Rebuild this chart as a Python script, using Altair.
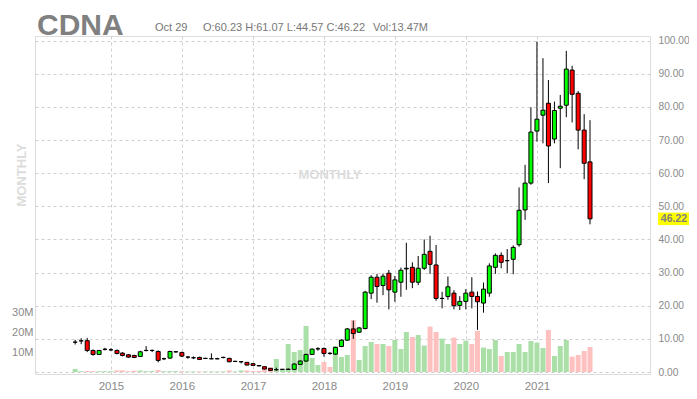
import altair as alt
import pandas as pd

# ---------------- data (monthly candles, Jul 2014 .. Oct 2021) ----------------
first_month = "2014-07-01"
n_months = 88

opens = [
    9.0, 9.4, 9.45, 6.5, 5.3, 6.85,                                   # 2014 Jul-Dec
    6.7, 6.5, 5.7, 5.2, 5.0, 4.7, 6.5, 6.5, 6.2, 4.0, 4.2, 6.1,       # 2015
    5.9, 4.5, 4.3, 4.4, 4.1, 4.0, 4.0, 4.4, 4.1, 3.2, 3.1, 2.9,       # 2016
    2.5, 1.95, 1.6, 1.1, 0.7, 0.8, 0.75, 0.8, 2.3, 3.3, 5.3, 7.0,     # 2017
    7.1, 5.65, 5.4, 7.7, 9.6, 13.0, 12.0, 13.1, 23.8, 28.6, 26.1, 29.8,  # 2018
    24.1, 27.1, 31.1, 31.6, 27.1, 31.3, 36.4, 32.3, 22.2, 22.8, 23.8, 20.1,  # 2019
    21.3, 24.1, 22.8, 20.8, 23.8, 31.6, 35.2, 33.6, 34.0, 38.4, 48.9, 57.0,  # 2020
    72.7, 77.5, 81.1, 70.3, 79.6, 80.5, 91.1, 84.1, 73.0, 63.4,       # 2021 Jan-Oct
]
highs = [
    9.7, 10.2, 10.3, 6.8, 6.6, 7.3,
    7.2, 6.8, 6.0, 5.4, 5.2, 6.4, 7.8, 6.8, 6.5, 4.3, 6.4, 6.3,
    6.1, 4.8, 4.7, 4.6, 4.3, 5.6, 4.3, 4.6, 4.3, 3.4, 3.3, 3.0,
    2.6, 2.0, 1.7, 1.2, 1.3, 0.9, 1.1, 2.6, 3.5, 5.5, 7.1, 7.5,
    7.4, 6.0, 7.6, 9.9, 13.3, 15.5, 13.6, 24.5, 29.2, 29.6, 29.7, 30.8,
    29.0, 31.5, 39.0, 33.1, 35.0, 40.0, 41.1, 38.3, 24.2, 28.8, 24.7, 22.9,
    25.0, 28.6, 24.3, 27.0, 32.8, 35.8, 36.1, 37.1, 38.2, 55.7, 62.5, 79.9,
    99.7, 94.7, 88.1, 81.6, 83.6, 96.9, 92.4, 84.8, 77.8, 76.0,
]
lows = [
    8.3, 8.4, 6.0, 4.9, 5.1, 6.5,
    6.3, 5.3, 4.7, 4.3, 4.2, 4.5, 6.2, 6.0, 2.9, 3.6, 4.0, 5.8,
    4.5, 4.0, 3.9, 3.6, 3.9, 3.8, 3.8, 4.1, 2.9, 3.0, 2.6, 2.0,
    1.8, 1.7, 0.8, 0.4, 0.4, 0.6, 0.6, 0.7, 2.2, 3.1, 5.1, 6.4,
    4.6, 5.2, 5.2, 7.5, 9.4, 10.0, 11.8, 12.9, 22.0, 20.9, 23.2, 18.9,
    21.2, 22.7, 24.8, 25.3, 26.2, 30.8, 29.6, 21.5, 19.2, 21.8, 18.9, 18.7,
    18.9, 19.2, 12.7, 17.9, 22.7, 29.6, 31.3, 29.8, 29.5, 37.8, 45.9, 56.5,
    69.5, 69.0, 57.0, 69.0, 61.5, 76.9, 75.3, 67.2, 58.2, 44.57,
]
closes = [
    9.0, 9.4, 6.5, 5.3, 6.5, 6.85,
    6.7, 5.6, 5.0, 4.5, 4.4, 6.1, 6.5, 6.5, 3.5, 4.0, 6.2, 6.1,
    4.8, 4.5, 4.3, 3.8, 4.1, 4.0, 4.0, 4.4, 3.1, 3.2, 3.1, 2.1,
    2.0, 1.85, 0.9, 0.5, 0.7, 0.8, 0.85, 2.4, 3.3, 5.3, 6.9, 7.0,
    5.6, 5.6, 7.4, 9.6, 13.0, 11.6, 13.3, 24.1, 28.6, 25.8, 28.9, 24.8,
    27.8, 30.7, 31.3, 27.1, 31.3, 35.5, 32.5, 22.2, 22.2, 25.7, 20.0, 21.3,
    23.8, 22.8, 21.2, 25.0, 32.0, 35.2, 33.1, 33.6, 37.6, 48.8, 57.0, 72.4,
    76.3, 79.0, 68.2, 78.9, 80.2, 91.4, 83.8, 73.0, 63.0, 46.22,
]
volumes_m = [
    1.5, 0.4, 0.5, 0.4, 0.4, 0.4,
    0.4, 0.8, 0.8, 0.4, 0.7, 0.7, 0.4, 0.4, 1.0, 0.4, 0.4, 0.4,
    0.4, 0.3, 0.3, 0.3, 0.3, 0.3, 0.3, 0.3, 0.8, 0.3, 0.8, 0.8,
    0.5, 0.5, 1.5, 2.3, 6.5, 1.0, 14.0, 10.0, 11.0, 23.0, 7.0, 3.5,
    5.0, 2.5, 13.0, 7.5, 8.5, 26.0, 6.0, 13.0, 15.0, 14.0, 14.0, 13.0,
    16.0, 11.5, 20.0, 17.5, 18.5, 13.2, 22.7, 20.0, 16.7, 14.0, 17.2, 14.0,
    15.7, 14.0, 20.5, 12.2, 11.5, 16.0, 8.0, 10.0, 10.0, 14.0, 10.0, 15.5,
    14.7, 12.0, 21.0, 8.0, 13.0, 16.0, 7.7, 8.5, 10.5, 12.5,
]
year_ticks = [2015, 2016, 2017, 2018, 2019, 2020, 2021]
price_ticks = [0, 10, 20, 30, 40, 50, 60, 70, 80, 90, 100]
volume_ticks = [10, 20, 30]

ticker = "CDNA"
info_date = "Oct 29"
info_ohlc = "O:60.23 H:61.07 L:44.57 C:46.22"
info_vol = "Vol:13.47M"
watermark = "MONTHLY"
last_price = [46.22]

dates = pd.date_range(first_month, periods=n_months, freq="MS").strftime("%Y-%m-%d").tolist()
df = pd.DataFrame({"date": dates, "open": opens, "high": highs, "low": lows,
                   "close": closes, "vol": volumes_m})

# ---------------- styling ----------------
FONT = "Liberation Sans"
GRID = "#cfcfcf"
LABEL = "#8a8a8a"
W, H = 615, 338
UP = "datum.close >= datum.open"

x_enc = alt.X(
    "date:T",
    scale=alt.Scale(domain=["2014-01-01", "2022-07-11"]),
    axis=alt.Axis(values=[alt.DateTime(year=y, month=1, date=1) for y in year_ticks],
                  format="%Y", title=None, grid=True, gridColor=GRID, gridDash=[3, 3],
                  domain=False, ticks=False, labelPadding=6, labelFontSize=11.5,
                  labelColor=LABEL, labelFont=FONT),
)

price_scale = alt.Scale(domain=[-0.6035, 101.39], nice=False, zero=False)
price_axis = alt.Axis(orient="right", values=price_ticks, format=".2f", title=None,
                      grid=True, gridColor=GRID, gridDash=[3, 3], domain=False,
                      ticks=False, labelPadding=8, labelFontSize=10.2,
                      labelColor=LABEL, labelFont=FONT)

base = alt.Chart(df)

vol = base.mark_bar(width=5).encode(
    x=x_enc,
    y=alt.Y("vol:Q", scale=alt.Scale(domain=[-1, 168], nice=False, zero=False),
            axis=alt.Axis(orient="left", values=volume_ticks, labelExpr="datum.value + 'M'",
                          title=None, grid=False, domain=False, ticks=False,
                          labelPadding=2, labelFontSize=11, labelColor=LABEL,
                          labelFont=FONT)),
    color=alt.condition(UP, alt.value("#aadfa8"), alt.value("#ffc0c0")),
)

wicks = base.mark_rule(color="black", strokeWidth=1).encode(
    x=x_enc,
    y=alt.Y("low:Q", scale=price_scale, axis=price_axis),
    y2="high:Q",
)

bodies = base.mark_bar(width=4, stroke="black", strokeWidth=1).encode(
    x=x_enc,
    y=alt.Y("open:Q", scale=price_scale, axis=price_axis),
    y2="close:Q",
    color=alt.condition(UP, alt.value("#00ff00"), alt.value("#ff0000")),
)

last_df = pd.DataFrame({"p": last_price, "t": [f"{v:.2f}" for v in last_price]})
tag_bg = alt.Chart(last_df).mark_point(
    shape="M-1,-0.39L1,-0.39L1,0.39L-1,0.39Z", size=1024, filled=True,
    fill="#ffff00", opacity=1, strokeWidth=0
).encode(x=alt.value(639), y=alt.Y("p:Q", scale=price_scale, axis=price_axis))
tag_txt = alt.Chart(last_df).mark_text(
    font=FONT, fontSize=10.5, fontWeight="bold", color="#808080", align="center",
    baseline="middle"
).encode(x=alt.value(639), y=alt.Y("p:Q", scale=price_scale, axis=price_axis), text="t:N")

price = alt.layer(wicks, bodies, tag_bg, tag_txt)

core = alt.layer(vol, price).resolve_scale(y="independent")

def label(txt, x, y, **kw):
    return alt.Chart(pd.DataFrame({"t": [txt]})).mark_text(font=FONT, **kw).encode(
        x=alt.value(x), y=alt.value(y), text="t:N")

title = label(ticker, 2, -1, fontSize=30, fontWeight="bold", color="#808080",
              align="left", baseline="alphabetic")
info1 = label(info_date, 120, -5, fontSize=11, color="#777777", align="left",
              baseline="alphabetic")
info2 = label(info_ohlc, 168, -5, fontSize=11, color="#777777", align="left",
              baseline="alphabetic")
info3 = label(info_vol, 338, -5, fontSize=11, color="#777777", align="left",
              baseline="alphabetic")
wm1 = label(watermark, 295, 139, fontSize=13, fontWeight="bold", color="#dcdcdc",
            align="center", baseline="middle")
wm2 = label(watermark, -13, 139, fontSize=13, fontWeight="bold", color="#dcdcdc",
            align="center", baseline="middle", angle=270)

chart = alt.layer(core, wm1, wm2, title, info1, info2, info3).properties(
    width=W, height=H,
    autosize=alt.AutoSizeParams(type="none"),
    padding={"left": 27, "top": 28, "right": 39, "bottom": 16},
).configure_view(stroke=None).configure(background="white")

chart.save("out.html", embed_options={"renderer": "svg", "actions": False})
